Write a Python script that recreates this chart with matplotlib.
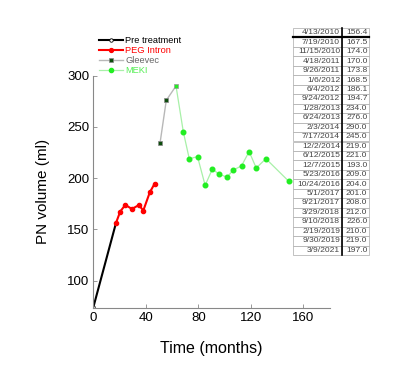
import matplotlib
matplotlib.use("Agg")
import matplotlib.pyplot as plt
from matplotlib.lines import Line2D

plt.rcParams['font.family'] = ['Liberation Sans', 'DejaVu Sans']

# Data
pre_x = [0.0, 17.3]
pre_y = [74.0, 156.4]
peg_x = [17.3, 20.5, 24.4, 29.4, 34.7, 38.1, 43.0, 46.7]
peg_y = [156.4, 167.5, 174.0, 170.0, 173.8, 168.5, 186.1, 194.7]
glv_x = [50.8, 55.6, 63.0]
glv_y = [234.0, 276.0, 290.0]
mek_x = [63.0, 68.6, 73.1, 79.4, 85.2, 90.7, 95.7, 101.9, 106.6, 112.9, 118.7, 124.1, 131.5, 148.9]
mek_y = [290.0, 245.0, 219.0, 221.0, 193.0, 209.0, 204.0, 201.0, 208.0, 212.0, 226.0, 210.0, 219.0, 197.0]

dates = ["4/13/2010", "7/19/2010", "11/15/2010", "4/18/2011", "9/26/2011", "1/6/2012",
         "6/4/2012", "9/24/2012", "1/28/2013", "6/24/2013", "2/3/2014", "7/17/2014",
         "12/2/2014", "6/12/2015", "12/7/2015", "5/23/2016", "10/24/2016", "5/1/2017",
         "9/21/2017", "3/29/2018", "9/10/2018", "2/19/2019", "9/30/2019", "3/9/2021"]
volumes = ["156.4", "167.5", "174.0", "170.0", "173.8", "168.5", "186.1", "194.7",
           "234.0", "276.0", "290.0", "245.0", "219.0", "221.0", "193.0", "209.0",
           "204.0", "201.0", "208.0", "212.0", "226.0", "210.0", "219.0", "197.0"]

xticks = [0, 40, 80, 120, 160]
yticks = [100, 150, 200, 250, 300]

W, H = 400, 369
fig = plt.figure(figsize=(W/100, H/100), dpi=100)
ax = fig.add_axes([93.3/W, 1-308/H, (329.6-93.3)/W, (308-75.7)/H])

ax.plot(pre_x, pre_y, color='black', lw=1.5, marker='o', ms=2.5, mfc='white', mec='black',
        mew=0.6, markevery=[0])
ax.plot(peg_x, peg_y, color='#ff0000', lw=1.5, marker='o', ms=3, mfc='#ff0000', mec='#ff0000')
ax.plot(glv_x, glv_y, color='#b8b8b8', lw=1.0, marker='s', ms=3.3, mfc='#0d4d0d',
        mec='#888888', mew=0.5, markevery=[0, 1])
ax.plot(mek_x, mek_y, color='#a8f0a8', lw=0.9, marker='o', ms=3.3, mfc='#22ee22',
        mec='#22ee22', markevery=list(range(1, len(mek_x))))
ax.plot(mek_x[:1], mek_y[:1], ls='none', marker='s', ms=3.5, mfc='#22ee22', mec='#999999', mew=0.5)

ax.set_xlim(0, 180)
ax.set_ylim(73.4, 300)
ax.set_xticks(xticks)
ax.set_yticks(yticks)
for s in ['top', 'right']:
    ax.spines[s].set_visible(False)
for s in ['left', 'bottom']:
    ax.spines[s].set_color('#888888')
    ax.spines[s].set_linewidth(0.8)
ax.tick_params(direction='in', length=3, width=0.6, color='#888888', labelsize=9.5, pad=3)
ax.set_xlabel('Time (months)', fontsize=11.5, labelpad=12)
ax.set_ylabel('PN volume (ml)', fontsize=11, labelpad=12)

handles = [
    Line2D([], [], color='black', lw=1.5, marker='o', ms=2.5, mfc='white', mec='black', mew=0.6),
    Line2D([], [], color='#ff0000', lw=1.5, marker='o', ms=2.8, mfc='#ff0000', mec='#ff0000'),
    Line2D([], [], color='#b8b8b8', lw=1.0, marker='s', ms=3, mfc='#0d4d0d', mec='#888888', mew=0.5),
    Line2D([], [], color='#a8f0a8', lw=0.9, marker='o', ms=3, mfc='#22ee22', mec='#22ee22'),
]
labels = ['Pre treatment', 'PEG Intron', 'Gleevec', 'MEKI']
leg = fig.legend(handles, labels, loc='upper left', bbox_to_anchor=(99/W, 1-36/H),
                 frameon=False, fontsize=6.7, handlelength=2.6, handletextpad=0.2,
                 labelspacing=0.1, borderpad=0, borderaxespad=0)
for t, c in zip(leg.get_texts(), ['black', '#ff0000', '#666666', '#55ee55']):
    t.set_color(c)

# Table
tx0, tx1, ty0, ty1 = 293, 369, 28, 255
tax = fig.add_axes([tx0/W, 1-ty1/H, (tx1-tx0)/W, (ty1-ty0)/H])
tax.axis('off')
cells = [[d, v] for d, v in zip(dates, volumes)]
tab = tax.table(cellText=cells, cellLoc='right', bbox=[0, 0, 1, 1],
                colWidths=[49/76, 27/76])
tab.auto_set_font_size(False)
for (r, c), cell in tab.get_celld().items():
    cell.set_edgecolor('#aaaaaa')
    cell.set_linewidth(0.5)
    cell.get_text().set_fontsize(6.1)
    cell.get_text().set_color('#444444')
    cell.PAD = 0.04 if c == 0 else 0.06
n = len(dates)
tax.plot([49/76, 49/76], [0, 1], color='black', lw=1.2, transform=tax.transAxes, clip_on=False)
tax.plot([0, 1], [1-1/n, 1-1/n], color='black', lw=1.6, transform=tax.transAxes, clip_on=False)

fig.savefig('out.png', dpi=100)
